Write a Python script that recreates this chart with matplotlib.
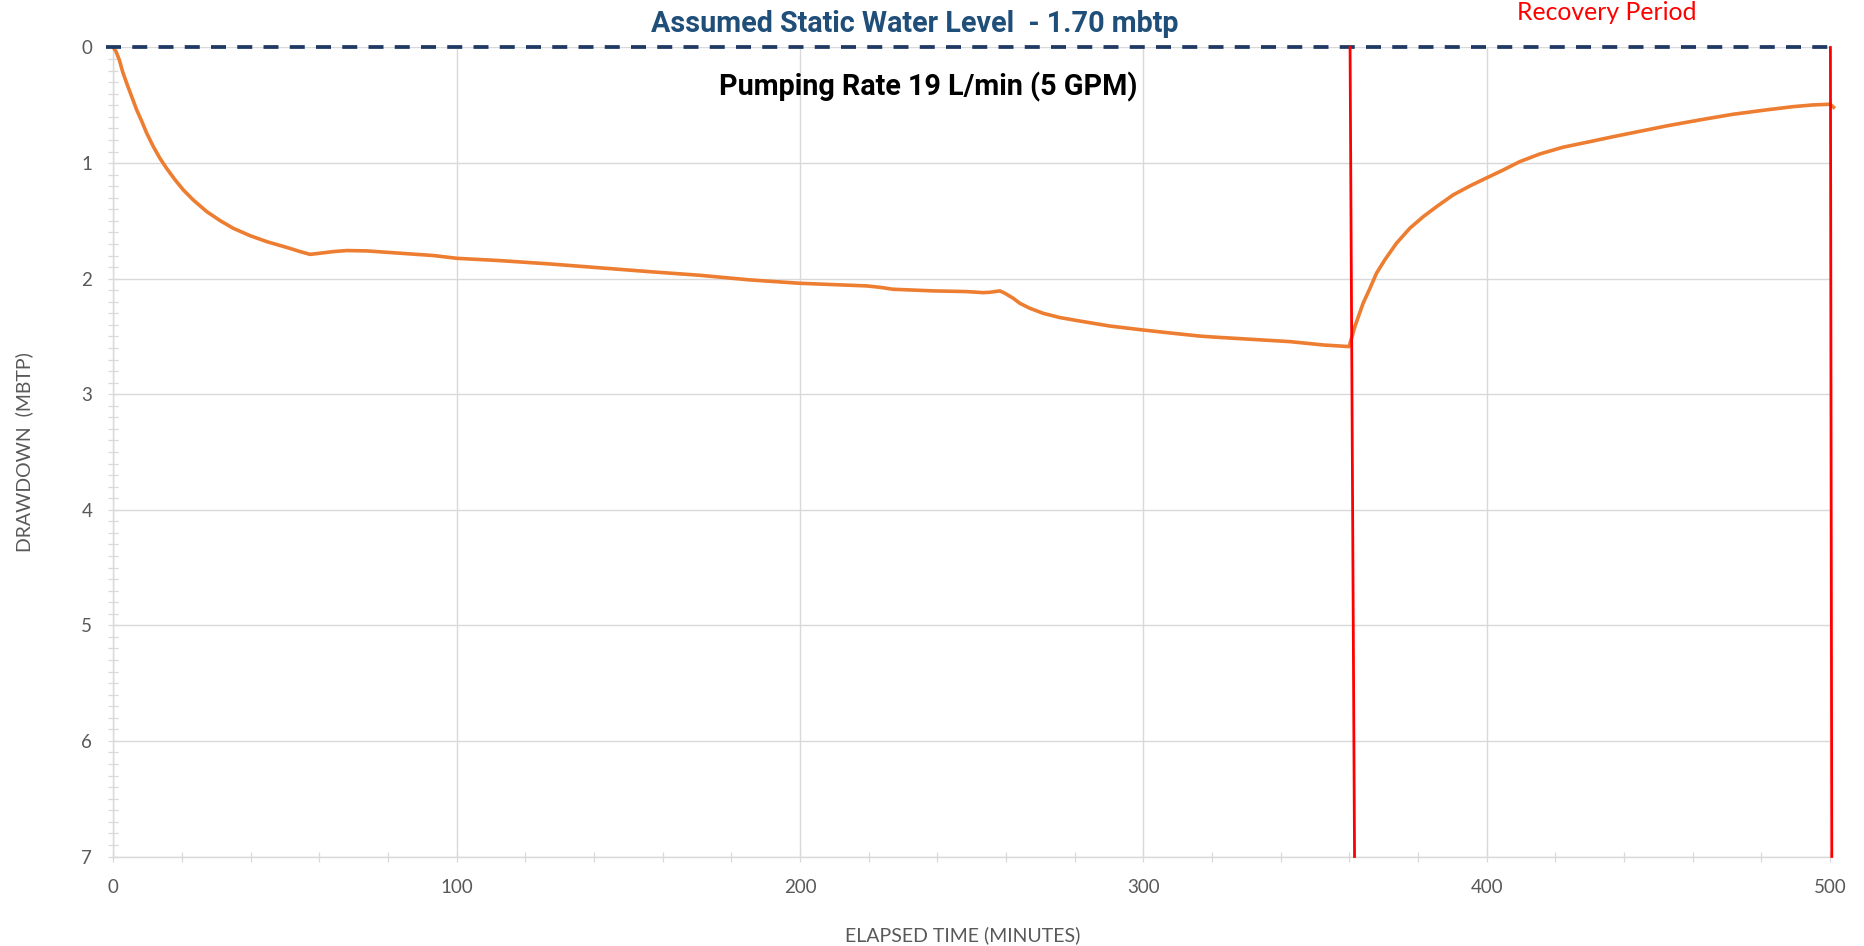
import matplotlib
matplotlib.use("Agg")
import matplotlib.pyplot as plt
from matplotlib.ticker import MultipleLocator

# pumping phase: elapsed time (min) vs drawdown (m below top of pipe)
t_pump = [0, 0.8, 1.75, 2.7, 3.9, 5.35, 6.8, 8.3, 9.7, 11.65, 13.6, 15.5, 18.0,
          20.4, 23.3, 27.2, 31.1, 34.9, 39.8, 44.7, 50.5, 54.4, 57.3, 60.2, 64.1,
          68, 73.8, 83.5, 93.2, 100, 112.6, 127.2, 156.3, 170.8, 185.4, 199.8,
          219.4, 223.3, 227.1, 238.8, 248.5, 253.3, 255.3, 258.2, 259.7, 262.1,
          264, 266.9, 270.8, 275.7, 282.5, 290.2, 299.8, 308.7, 316.4, 321.3,
          342.7, 352.4, 359.9]
dd_pump = [0.0, 0.036, 0.108, 0.209, 0.31, 0.425, 0.54, 0.64, 0.74, 0.858, 0.96,
           1.045, 1.146, 1.233, 1.32, 1.42, 1.498, 1.564, 1.628, 1.68, 1.73, 1.766,
           1.79, 1.78, 1.766, 1.757, 1.76, 1.78, 1.80, 1.824, 1.844, 1.873, 1.94,
           1.971, 2.011, 2.04, 2.063, 2.075, 2.092, 2.106, 2.112, 2.121, 2.118,
           2.106, 2.127, 2.17, 2.213, 2.256, 2.30, 2.337, 2.372, 2.41, 2.444,
           2.473, 2.497, 2.507, 2.545, 2.574, 2.588]

# recovery phase
t_rec = [360.9, 361.6, 362.6, 364.0, 366.0, 367.9, 370.3, 373.7, 377.6, 381.5,
         385.4, 390.2, 395.1, 399.7, 404.8, 409.6, 415.5, 422.2, 430, 436.8,
         442.6, 447.5, 452.3, 462, 471.7, 481.4, 489.2, 495, 500, 501]
dd_rec = [2.487, 2.415, 2.33, 2.213, 2.083, 1.953, 1.838, 1.694, 1.564, 1.464,
          1.377, 1.276, 1.198, 1.132, 1.06, 0.988, 0.921, 0.863, 0.815, 0.772,
          0.737, 0.708, 0.679, 0.627, 0.578, 0.54, 0.512, 0.497, 0.491, 0.517]

static_level = 0.0
pump_off = [360.2, 361.5]   # top / bottom of the marker line
test_end = [500.1, 500.5]

x_ticks = [0, 100, 200, 300, 400, 500]
y_ticks = [0, 1, 2, 3, 4, 5, 6, 7]

grey = "#D9D9D9"
label_grey = "#595959"
orange = "#ED7D31"
navy = "#1F3864"

fig = plt.figure(figsize=(18.64, 9.46), dpi=100)
ax = fig.add_axes([0.0608, 0.0946, 0.9210, 0.8552])

ax.set_xlim(0, 500)
ax.set_ylim(7, 0)
ax.set_xticks(x_ticks)
ax.set_yticks(y_ticks)
ax.xaxis.set_minor_locator(MultipleLocator(20))
ax.yaxis.set_minor_locator(MultipleLocator(0.1))
ax.grid(True, which="major", color=grey, linewidth=1.0, zorder=0)
ax.set_axisbelow(True)

for s in ["top", "right"]:
    ax.spines[s].set_visible(False)
for s in ["left", "bottom"]:
    ax.spines[s].set_color(grey)
    ax.spines[s].set_linewidth(1.0)

ax.tick_params(which="both", direction="inout", length=7.2, width=0.9, color=grey)
ax.tick_params(axis="y", which="major", pad=11.5, labelsize=13.5, labelcolor=label_grey)
ax.tick_params(axis="x", which="major", pad=12.3, labelsize=13.5, labelcolor=label_grey)
for lab in ax.get_xticklabels() + ax.get_yticklabels():
    lab.set_fontfamily("Lato")

# static water level and drawdown curve
ax.plot([-2, 502], [static_level, static_level], color=navy, linewidth=2.7,
        linestyle=(0, (4, 3)), clip_on=False, zorder=4)
ax.plot(t_pump + t_rec, dd_pump + dd_rec, color=orange, linewidth=2.6,
        solid_joinstyle="round", clip_on=False, zorder=3)

# pump off / end of recovery markers
ax.plot(pump_off, [0, 7], color="red", linewidth=2.0, clip_on=False, zorder=5)
ax.plot(test_end, [0, 7], color="red", linewidth=2.0, clip_on=False, zorder=5)

ax.set_xlabel("ELAPSED TIME (MINUTES)", fontsize=14, color=label_grey,
              family="Lato", va="center")
ax.xaxis.set_label_coords(0.495, -0.097)
ax.set_ylabel("DRAWDOWN  (MBTP)", fontsize=14, color=label_grey,
              family="Lato", va="center")
ax.yaxis.set_label_coords(-0.052, 0.5)

fig.text(0.4909, 0.9746, "Assumed Static Water Level  - 1.70 mbtp", ha="center",
         va="center", fontsize=20.7, fontweight="bold", color="#1F4E79", family="Roboto")
fig.text(0.4979, 0.908, "Pumping Rate 19 L/min (5 GPM)", ha="center", va="center",
         fontsize=20.7, fontweight="bold", color="black", family="Roboto")
fig.text(0.8621, 0.9873, "Recovery Period", ha="center", va="center",
         fontsize=17.8, color="red", family="Lato")

fig.savefig("out.png", dpi=100)
